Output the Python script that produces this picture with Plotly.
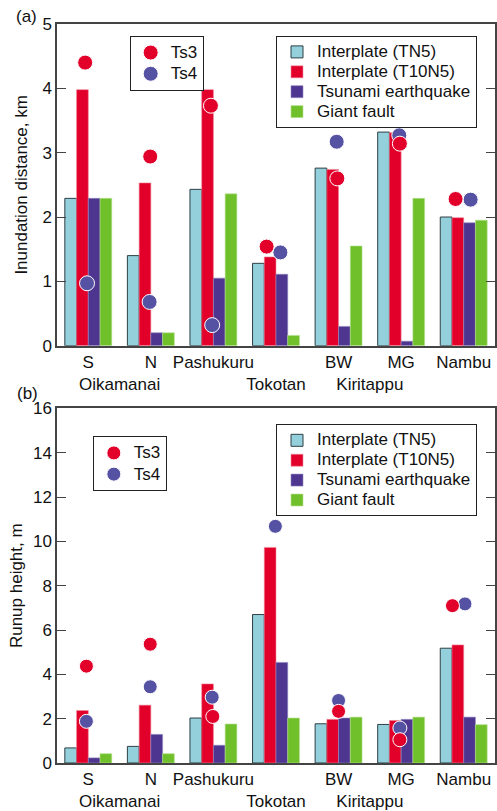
import numpy as np
import plotly.graph_objects as go

# ---------------- data ----------------
sites = ["S", "N", "Pashukuru", "Tokotan", "BW", "MG", "Nambu"]
row1_labels = ["S", "N", "Pashukuru", "", "BW", "MG", "Nambu"]
areas = ["Oikamanai", "Tokotan", "Kiritappu"]
area_members = [["S", "N"], ["Tokotan"], ["BW", "MG"]]

series_names = ["Interplate (TN5)", "Interplate (T10N5)", "Tsunami earthquake", "Giant fault"]

# (a) inundation distance, km
inund_tn5 = [2.29, 1.40, 2.43, 1.28, 2.76, 3.32, 2.00]
inund_t10n5 = [3.98, 2.53, 3.98, 1.38, 2.74, 3.31, 1.99]
inund_tsu = [2.29, 0.20, 1.05, 1.11, 0.30, 0.07, 1.91]
inund_giant = [2.29, 0.20, 2.36, 0.16, 1.55, 2.29, 1.95]
inund_ts3 = [4.40, 2.94, 3.73, 1.54, 2.60, 3.14, 2.28]
inund_ts4 = [0.97, 0.68, 0.32, 1.45, 3.17, 3.27, 2.27]

# (b) runup height, m
runup_tn5 = [0.68, 0.75, 2.03, 6.70, 1.77, 1.74, 5.18]
runup_t10n5 = [2.37, 2.61, 3.57, 9.73, 1.97, 1.92, 5.33]
runup_tsu = [0.23, 1.29, 0.80, 4.54, 2.03, 1.97, 2.07]
runup_giant = [0.42, 0.42, 1.76, 2.03, 2.07, 2.07, 1.73]
runup_ts3 = [4.37, 5.36, 2.10, 16.26, 2.33, 1.05, 7.10]
runup_ts4 = [1.88, 3.44, 2.97, 10.68, 2.82, 1.58, 7.18]

# small horizontal offsets of the deposit dots (fraction of a group)
inund_ts3_dx = [-0.05, -0.01, -0.04, -0.15, -0.02, -0.02, -0.13]
inund_ts4_dx = [-0.02, -0.02, -0.02, 0.07, -0.03, -0.03, 0.11]
runup_ts3_dx = [-0.03, -0.01, -0.01, -0.03, 0.0, -0.02, -0.18]
runup_ts4_dx = [-0.03, -0.01, -0.02, -0.01, 0.0, -0.02, 0.02]

# ---------------- style ----------------
FONT = "Liberation Sans, Arial, Helvetica, sans-serif"
C_TN5 = "#93d0dc"
C_T10 = "#e2002b"
C_TSU = "#4e358f"
C_GIANT = "#70c02b"
C_TS3 = "#e2002b"
C_TS4 = "#5652a3"
bar_colors = [C_TN5, C_T10, C_TSU, C_GIANT]
bar_lines = [dict(color="#2f3f45", width=1), dict(color="#f08a9a", width=0.6),
             dict(color="#8e86c0", width=0.6), dict(color="#b6e08e", width=0.6)]

W, H = 497, 811
ML, MR, MT, MB = 57, 0, 24, 45
ph = H - MT - MB
def py(pix):
    return 1 - (pix - MT) / ph
def px(pix):
    return (pix - ML) / (W - ML - MR)

def big(t):
    return '<span style="font-size:17px">' + t + '</span>'

xs = np.arange(len(sites))
idx = {s: i for i, s in enumerate(sites)}
area_pos = [float(np.mean([idx[m] for m in mem])) for mem in area_members]

fig = go.Figure()

panels = [
    ("x", "y", [inund_tn5, inund_t10n5, inund_tsu, inund_giant], inund_ts3, inund_ts4,
     inund_ts3_dx, inund_ts4_dx, "legend", "legend2", 15),
    ("x2", "y2", [runup_tn5, runup_t10n5, runup_tsu, runup_giant], runup_ts3, runup_ts4,
     runup_ts3_dx, runup_ts4_dx, "legend3", "legend4", 14),
]
for xa, ya, bars, ts3, ts4, dx3, dx4, lg_bar, lg_dot, msize in panels:
    for name, vals, col, ln in zip(series_names, bars, bar_colors, bar_lines):
        fig.add_trace(go.Bar(x=xs, y=vals, name=big(name), xaxis=xa, yaxis=ya,
                             marker=dict(color=col, line=ln), legend=lg_bar,
                             offsetgroup=name))
    fig.add_trace(go.Scatter(x=xs + np.array(dx4), y=ts4, mode="markers", name=big("Ts4"),
                             xaxis=xa, yaxis=ya, legend=lg_dot, legendrank=2,
                             cliponaxis=False,
                             marker=dict(color=C_TS4, size=msize, line=dict(color="white", width=1))))
    fig.add_trace(go.Scatter(x=xs + np.array(dx3), y=ts3, mode="markers", name=big("Ts3"),
                             xaxis=xa, yaxis=ya, legend=lg_dot, legendrank=1,
                             cliponaxis=False,
                             marker=dict(color=C_TS3, size=msize, line=dict(color="white", width=1))))

# merge the two label rows into one set of ticks
tick_map = {}
for i, lab in enumerate(row1_labels):
    tick_map[float(i)] = lab
for pos, a in zip(area_pos, areas):
    tick_map[pos] = tick_map.get(pos, "") + "<br>" + a
tickvals = sorted(tick_map)
ticktext = [tick_map[v] for v in tickvals]

xcommon = dict(range=[-0.5, 6.5], tickvals=tickvals, ticktext=ticktext, ticks="",
               tickangle=0,
               showline=True, linecolor="#444", linewidth=1.5, mirror=True,
               showgrid=False, zeroline=False,
               tickfont=dict(size=17, color="#111", family=FONT))
ycommon = dict(showline=True, linecolor="#444", linewidth=1.5, mirror="ticks",
               ticks="inside", ticklen=9, tickcolor="#444", tickwidth=1.2,
               showgrid=False, zeroline=False,
               tickfont=dict(size=17, color="#111", family=FONT),
               title_font=dict(size=17, color="#111", family=FONT))

top_dom = [py(347), 1.0]
bot_dom = [0.0, py(410)]

def leg(size):
    return dict(xanchor="left", yanchor="top", bordercolor="#222", borderwidth=1,
                bgcolor="white", font=dict(size=size, family=FONT, color="#111"),
                tracegroupgap=0, itemwidth=30, traceorder="normal")

fig.update_layout(
    width=W, height=H,
    margin=dict(l=ML, r=MR, t=MT, b=MB),
    paper_bgcolor="white", plot_bgcolor="white",
    font=dict(family=FONT, size=16, color="#111"),
    barmode="group", bargap=0.25, bargroupgap=0.0,
    xaxis=dict(**xcommon, domain=[0, 1], anchor="y"),
    yaxis=dict(**ycommon, domain=top_dom, range=[0, 5], dtick=1, anchor="x",
               title=dict(text="Inundation distance, km", standoff=10)),
    xaxis2=dict(**xcommon, domain=[0, 1], anchor="y2"),
    yaxis2=dict(**ycommon, domain=bot_dom, range=[0, 16], dtick=2, anchor="x2",
                title=dict(text="Runup height, m", standoff=6)),
    legend=dict(x=px(277), y=py(36), **leg(13)),
    legend2=dict(x=px(130), y=py(36), **leg(14)),
    legend3=dict(x=px(277), y=py(426), **leg(13)),
    legend4=dict(x=px(93), y=py(438), **leg(14)),
    annotations=[
        dict(text="(a)", xref="paper", yref="paper", x=px(14), y=py(16),
             xanchor="left", yanchor="middle", showarrow=False,
             font=dict(size=17, family=FONT, color="#111")),
        dict(text="(b)", xref="paper", yref="paper", x=px(15), y=py(395),
             xanchor="left", yanchor="middle", showarrow=False,
             font=dict(size=17, family=FONT, color="#111")),
    ],
)

fig.write_html("out.html")
